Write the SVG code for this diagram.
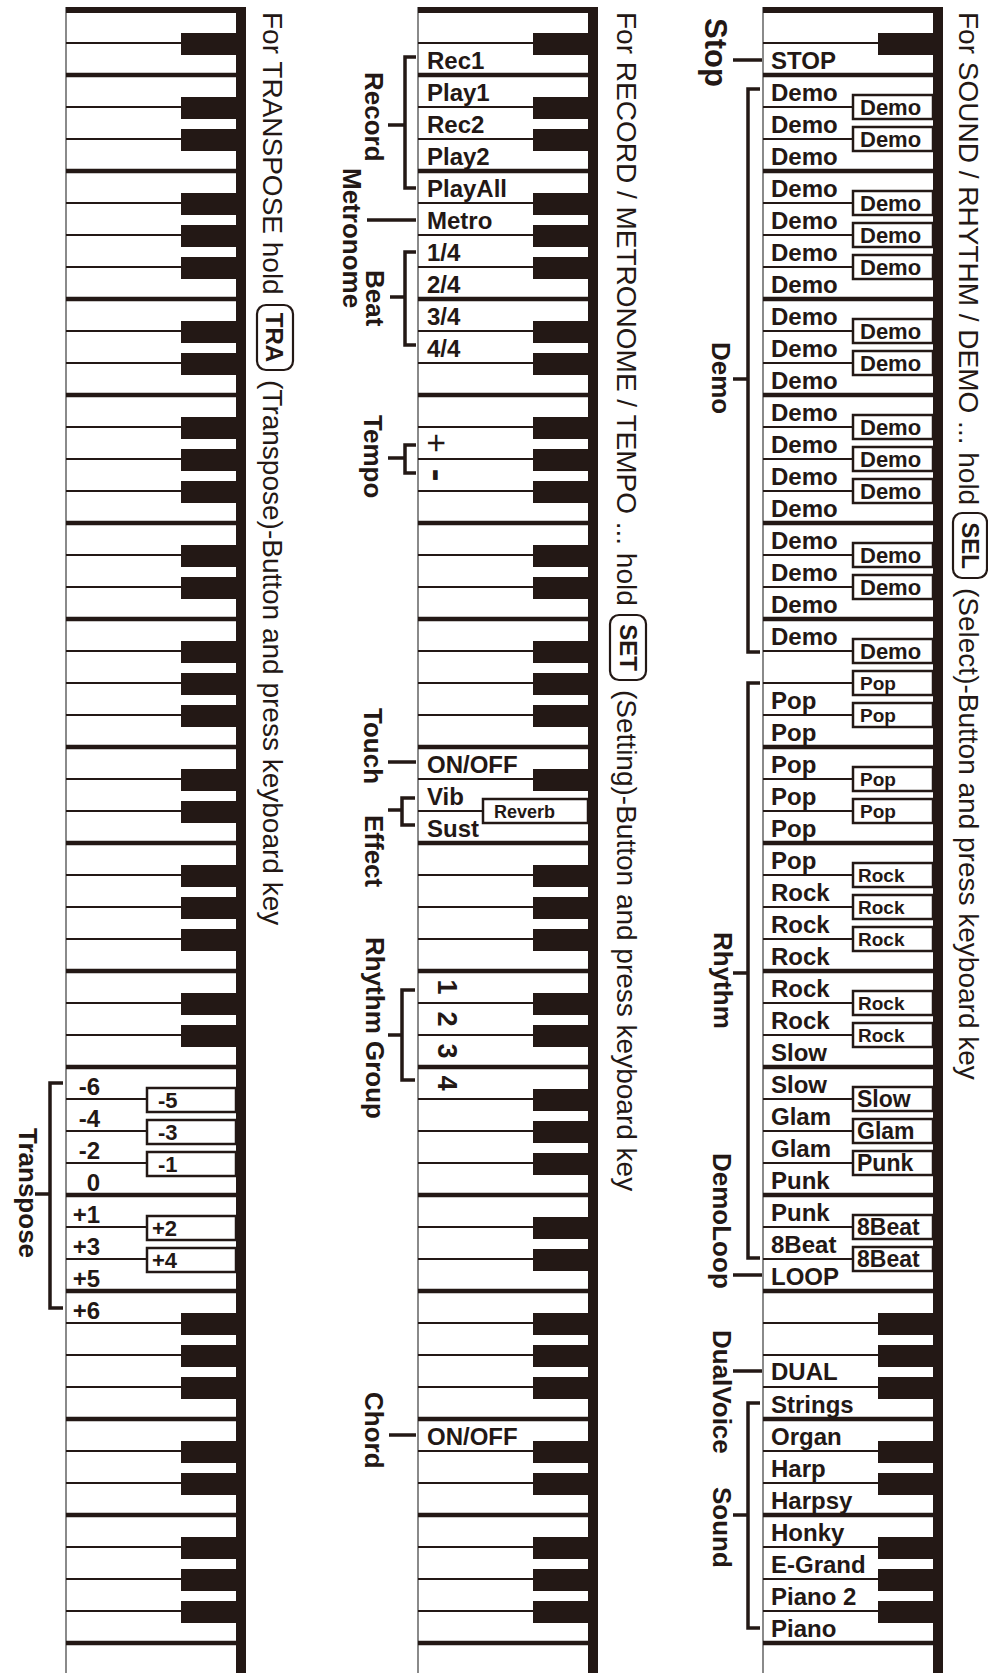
<svg xmlns="http://www.w3.org/2000/svg" width="988" height="1673" viewBox="0 0 988 1673">
<style>
text{font-family:"Liberation Sans",Arial,sans-serif;fill:#231815}
.k{font-weight:bold;font-size:24px}
.g{font-weight:bold;font-size:26px}
.gs{font-weight:bold;font-size:31px}
.h{font-size:28px}
.bt{font-weight:bold;font-size:22px}
.bs{font-weight:bold;font-size:19px}
.bl{font-weight:bold;font-size:23px}
.bg{font-weight:bold;font-size:24px}
.bx{fill:#fff;stroke:#231815;stroke-width:2.5}
.c{fill:none;stroke:#231815;stroke-width:3.5}
.badge{fill:#fff;stroke:#231815;stroke-width:2.2}
</style>
<defs>
<g id="kb">
<path d="M0 7V1673" stroke="#8a8a8a" stroke-width="2"/>
<path fill="none" stroke="#231815" stroke-width="2.2" d="M0 43H170M0 107H170M0 139H170M0 203H170M0 235H170M0 267H170M0 331H170M0 363H170M0 427H170M0 459H170M0 491H170M0 555H170M0 587H170M0 651H170M0 683H170M0 715H170M0 779H170M0 811H170M0 875H170M0 907H170M0 939H170M0 1003H170M0 1035H170M0 1099H170M0 1131H170M0 1163H170M0 1227H170M0 1259H170M0 1323H170M0 1355H170M0 1387H170M0 1451H170M0 1483H170M0 1547H170M0 1579H170M0 1611H170"/>
<path fill="none" stroke="#231815" stroke-width="4.5" d="M0 75H170M0 171H170M0 299H170M0 395H170M0 523H170M0 619H170M0 747H170M0 843H170M0 971H170M0 1067H170M0 1195H170M0 1291H170M0 1419H170M0 1515H170M0 1643H170"/>
<path fill="#231815" d="M115 33h55v22h-55zM115 97h55v22h-55zM115 129h55v22h-55zM115 193h55v22h-55zM115 225h55v22h-55zM115 257h55v22h-55zM115 321h55v22h-55zM115 353h55v22h-55zM115 417h55v22h-55zM115 449h55v22h-55zM115 481h55v22h-55zM115 545h55v22h-55zM115 577h55v22h-55zM115 641h55v22h-55zM115 673h55v22h-55zM115 705h55v22h-55zM115 769h55v22h-55zM115 801h55v22h-55zM115 865h55v22h-55zM115 897h55v22h-55zM115 929h55v22h-55zM115 993h55v22h-55zM115 1025h55v22h-55zM115 1089h55v22h-55zM115 1121h55v22h-55zM115 1153h55v22h-55zM115 1217h55v22h-55zM115 1249h55v22h-55zM115 1313h55v22h-55zM115 1345h55v22h-55zM115 1377h55v22h-55zM115 1441h55v22h-55zM115 1473h55v22h-55zM115 1537h55v22h-55zM115 1569h55v22h-55zM115 1601h55v22h-55z"/>
<rect x="0" y="7" width="180" height="6" fill="#231815"/>
<rect x="170" y="7" width="10" height="1666" fill="#231815"/>
</g>
</defs>
<rect width="988" height="1673" fill="#fff"/>

<g id="keyboard-left"><use href="#kb" transform="translate(66 0)"/></g>
<g id="keyboard-middle"><use href="#kb" transform="translate(418 0)"/></g>
<g id="keyboard-right"><use href="#kb" transform="translate(763 0)"/></g>

<g id="connectors" class="c">
<path d="M733 60H762"/>
<path d="M760 89H748V652H760M733 379H748"/>
<path d="M760 683H748V1258H760M733 973H748"/>
<path d="M733 1275H762"/>
<path d="M733 1371H762"/>
<path d="M760 1403H748V1628H760M733 1515H748"/>
<path d="M416 57H405V188H416M388 125H405"/>
<path d="M367 220H416"/>
<path d="M416 252H405V345H416M390 297H405"/>
<path d="M416 445H405V473H416M388 458H405"/>
<path d="M388 762H416"/>
<path d="M415 798H402V825H415M388 810H402"/>
<path d="M415 990H402V1080H415M388 1035H402"/>
<path d="M389 1435H416"/>
<path d="M63 1083H50V1308H63M35 1194H50"/>
</g>

<g id="heading-right">
<text class="h" transform="translate(959 12) rotate(90)">For SOUND / RHYTHM / DEMO ... hold</text>
<rect class="badge" x="953" y="513" width="34" height="65" rx="9"/>
<text class="bg" text-anchor="middle" transform="translate(962 545.5) rotate(90)">SEL</text>
<text class="h" transform="translate(959 588) rotate(90)">(Select)-Button and press keyboard key</text>
</g>
<g id="heading-middle">
<text class="h" transform="translate(617 12) rotate(90)">For RECORD / METRONOME / TEMPO ... hold</text>
<rect class="badge" x="610" y="615" width="36" height="65" rx="9"/>
<text class="bg" text-anchor="middle" transform="translate(620 647.5) rotate(90)">SET</text>
<text class="h" transform="translate(617 690) rotate(90)">(Setting)-Button and press keyboard key</text>
</g>
<g id="heading-left">
<text class="h" transform="translate(263 12) rotate(90)">For TRANSPOSE hold</text>
<rect class="badge" x="257" y="305" width="36" height="65" rx="9"/>
<text class="bg" text-anchor="middle" transform="translate(266 337.5) rotate(90)">TRA</text>
<text class="h" transform="translate(263 380) rotate(90)">(Transpose)-Button and press keyboard key</text>
</g>

<g id="group-stop">
<text class="gs" transform="translate(705 18) rotate(90)">Stop</text>
<text class="k" x="771" y="69">STOP</text>
</g>
<g id="group-demo">
<text class="g" transform="translate(712 342) rotate(90)">Demo</text>
<g class="k">
<text x="771" y="101">Demo</text><text x="771" y="133">Demo</text><text x="771" y="165">Demo</text><text x="771" y="197">Demo</text><text x="771" y="229">Demo</text><text x="771" y="261">Demo</text><text x="771" y="293">Demo</text><text x="771" y="325">Demo</text><text x="771" y="357">Demo</text><text x="771" y="389">Demo</text><text x="771" y="421">Demo</text><text x="771" y="453">Demo</text><text x="771" y="485">Demo</text><text x="771" y="517">Demo</text><text x="771" y="549">Demo</text><text x="771" y="581">Demo</text><text x="771" y="613">Demo</text><text x="771" y="645">Demo</text>
</g>
<g class="bx">
<rect x="853" y="95" width="80" height="24"/><rect x="853" y="127" width="80" height="24"/><rect x="853" y="191" width="80" height="24"/><rect x="853" y="223" width="80" height="24"/><rect x="853" y="255" width="80" height="24"/><rect x="853" y="319" width="80" height="24"/><rect x="853" y="351" width="80" height="24"/><rect x="853" y="415" width="80" height="24"/><rect x="853" y="447" width="80" height="24"/><rect x="853" y="479" width="80" height="24"/><rect x="853" y="543" width="80" height="24"/><rect x="853" y="575" width="80" height="24"/><rect x="853" y="639" width="80" height="24"/>
</g>
<g class="bt">
<text x="860" y="115">Demo</text><text x="860" y="147">Demo</text><text x="860" y="211">Demo</text><text x="860" y="243">Demo</text><text x="860" y="275">Demo</text><text x="860" y="339">Demo</text><text x="860" y="371">Demo</text><text x="860" y="435">Demo</text><text x="860" y="467">Demo</text><text x="860" y="499">Demo</text><text x="860" y="563">Demo</text><text x="860" y="595">Demo</text><text x="860" y="659">Demo</text>
</g>
</g>
<g id="group-rhythm">
<text class="g" transform="translate(714 932) rotate(90)">Rhythm</text>
<g class="k">
<text x="771" y="709">Pop</text><text x="771" y="741">Pop</text><text x="771" y="773">Pop</text><text x="771" y="805">Pop</text><text x="771" y="837">Pop</text><text x="771" y="869">Pop</text>
<text x="771" y="901">Rock</text><text x="771" y="933">Rock</text><text x="771" y="965">Rock</text><text x="771" y="997">Rock</text><text x="771" y="1029">Rock</text>
<text x="771" y="1061">Slow</text><text x="771" y="1093">Slow</text><text x="771" y="1125">Glam</text><text x="771" y="1157">Glam</text><text x="771" y="1189">Punk</text><text x="771" y="1221">Punk</text><text x="771" y="1253">8Beat</text>
</g>
<g class="bx">
<rect x="853" y="671" width="80" height="24"/><rect x="853" y="703" width="80" height="24"/><rect x="853" y="767" width="80" height="24"/><rect x="853" y="799" width="80" height="24"/>
<rect x="853" y="863" width="80" height="24"/><rect x="853" y="895" width="80" height="24"/><rect x="853" y="927" width="80" height="24"/><rect x="853" y="991" width="80" height="24"/><rect x="853" y="1023" width="80" height="24"/>
<rect x="853" y="1087" width="80" height="24"/><rect x="853" y="1119" width="80" height="24"/><rect x="853" y="1151" width="80" height="24"/><rect x="853" y="1215" width="80" height="24"/><rect x="853" y="1247" width="80" height="24"/>
</g>
<g class="bs">
<text x="860" y="690">Pop</text><text x="860" y="722">Pop</text><text x="860" y="786">Pop</text><text x="860" y="818">Pop</text>
<text x="858" y="882">Rock</text><text x="858" y="914">Rock</text><text x="858" y="946">Rock</text><text x="858" y="1010">Rock</text><text x="858" y="1042">Rock</text>
</g>
<g class="bl">
<text x="857" y="1107">Slow</text><text x="857" y="1139">Glam</text><text x="857" y="1171">Punk</text><text x="857" y="1235">8Beat</text><text x="857" y="1267">8Beat</text>
</g>
</g>
<g id="group-demoloop">
<text class="g" transform="translate(713 1153) rotate(90)">DemoLoop</text>
<text class="k" x="771" y="1285">LOOP</text>
</g>
<g id="group-dualvoice">
<text class="g" transform="translate(713 1330) rotate(90)">DualVoice</text>
<text class="k" x="771" y="1380">DUAL</text>
</g>
<g id="group-sound">
<text class="g" transform="translate(713 1487) rotate(90)">Sound</text>
<g class="k">
<text x="771" y="1413">Strings</text><text x="771" y="1445">Organ</text><text x="771" y="1477">Harp</text><text x="771" y="1509">Harpsy</text><text x="771" y="1541">Honky</text><text x="771" y="1573">E-Grand</text><text x="771" y="1605">Piano 2</text><text x="771" y="1637">Piano</text>
</g>
</g>

<g id="group-record">
<text class="g" transform="translate(365 72) rotate(90)">Record</text>
<g class="k"><text x="427" y="69">Rec1</text><text x="427" y="101">Play1</text><text x="427" y="133">Rec2</text><text x="427" y="165">Play2</text><text x="427" y="197">PlayAll</text></g>
</g>
<g id="group-metronome">
<text class="g" transform="translate(343 168) rotate(90)">Metronome</text>
<text class="k" x="427" y="229">Metro</text>
</g>
<g id="group-beat">
<text class="g" transform="translate(366 270) rotate(90)">Beat</text>
<g class="k"><text x="427" y="261">1/4</text><text x="427" y="293">2/4</text><text x="427" y="325">3/4</text><text x="427" y="357">4/4</text></g>
</g>
<g id="group-tempo">
<text class="g" transform="translate(364 415) rotate(90)">Tempo</text>
<text font-size="34" text-anchor="middle" transform="translate(437 443) rotate(90)" y="12">+</text>
<text font-size="38" font-weight="bold" text-anchor="middle" transform="translate(435 475) rotate(90)" y="10">-</text>
</g>
<g id="group-touch">
<text class="g" transform="translate(364 708) rotate(90)">Touch</text>
<text class="k" x="427" y="773">ON/OFF</text>
</g>
<g id="group-effect">
<text class="g" transform="translate(365 815) rotate(90)">Effect</text>
<text class="k" x="427" y="805">Vib</text>
<text class="k" x="427" y="837">Sust</text>
<rect class="bx" x="483" y="799" width="105" height="24"/>
<text x="494" y="818" font-size="18" font-weight="bold">Reverb</text>
</g>
<g id="group-rhythm-group">
<text class="g" transform="translate(366 937) rotate(90)">Rhythm Group</text>
<g font-size="27" font-weight="bold" text-anchor="middle">
<text transform="translate(438 987) rotate(90)">1</text>
<text transform="translate(438 1019) rotate(90)">2</text>
<text transform="translate(438 1051) rotate(90)">3</text>
<text transform="translate(438 1083) rotate(90)">4</text>
</g>
</g>
<g id="group-chord">
<text class="g" transform="translate(365 1392) rotate(90)">Chord</text>
<text class="k" x="427" y="1445">ON/OFF</text>
</g>

<g id="group-transpose">
<text class="g" transform="translate(19 1128) rotate(90)">Transpose</text>
<g class="k" text-anchor="end">
<text x="100" y="1095">-6</text><text x="100" y="1127">-4</text><text x="100" y="1159">-2</text><text x="100" y="1191">0</text><text x="100" y="1223">+1</text><text x="100" y="1255">+3</text><text x="100" y="1287">+5</text><text x="100" y="1319">+6</text>
</g>
<g class="bx">
<rect x="147" y="1088" width="89" height="24"/><rect x="147" y="1120" width="89" height="24"/><rect x="147" y="1152" width="89" height="24"/><rect x="147" y="1216" width="89" height="24"/><rect x="147" y="1248" width="89" height="24"/>
</g>
<g class="bt">
<text x="158" y="1108">-5</text><text x="158" y="1140">-3</text><text x="158" y="1172">-1</text><text x="152" y="1236">+2</text><text x="152" y="1268">+4</text>
</g>
</g>
</svg>
